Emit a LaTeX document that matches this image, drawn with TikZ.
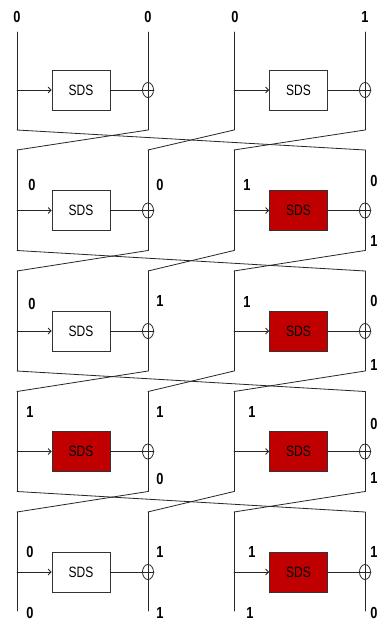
\documentclass[tikz,border=0pt]{standalone}
\usepackage{fontspec}
\setmainfont{Liberation Sans}
\newfontfamily\narrowsf[FakeStretch=0.8]{Liberation Sans}
\usetikzlibrary{shapes.geometric,arrows.meta}
\definecolor{sdsred}{HTML}{C00000}
\begin{document}
\begin{tikzpicture}[x=1pt,y=-1pt,
  wire/.style={line width=0.8pt, draw=black!85, line cap=round},
  sdsbox/.style={draw=black!80, line width=0.8pt, minimum width=58pt, minimum height=40pt, inner sep=0pt, font=\narrowsf\fontsize{15}{16}\selectfont},
  hot/.style={sdsbox, fill=sdsred},
  cold/.style={sdsbox, fill=white},
  xorsym/.style={ellipse, draw=black!85, line width=0.8pt, minimum width=11pt, minimum height=15pt, inner sep=0pt},
  feed/.style={wire, -{Straight Barb[length=3pt,width=6pt]}},
  bit/.style={font=\narrowsf\bfseries\fontsize{16}{17}\selectfont, inner sep=0pt}
]
\useasboundingbox (0,0) rectangle (379,621);
\fill[white] (0,0) rectangle (379,621);

\foreach \k/\c/\t/\b/\sa/\sb in {1/90/32/130/cold/cold, 2/210.5/150/250.5/cold/hot, 3/331/271/371/cold/hot, 4/451.5/391.5/491.5/hot/hot, 5/572/512/611/cold/hot} {
  \coordinate (t\k-1) at (17,\t);
  \coordinate (t\k-2) at (148,\t);
  \coordinate (t\k-3) at (234,\t);
  \coordinate (t\k-4) at (365,\t);
  \coordinate (b\k-1) at (17,\b);
  \coordinate (b\k-2) at (148,\b);
  \coordinate (b\k-3) at (234,\b);
  \coordinate (b\k-4) at (365,\b);
  \coordinate (in\k-1) at (17,\c);
  \coordinate (in\k-2) at (234,\c);
  \node[\sa] (box\k-1) at (81,\c) {SDS};
  \node[\sb] (box\k-2) at (298.5,\c) {SDS};
  \node[xorsym] (xor\k-1) at (148,\c) {};
  \node[xorsym] (xor\k-2) at (365,\c) {};
  \draw[wire] (t\k-1) -- (b\k-1);
  \draw[wire] (t\k-2) -- (b\k-2);
  \draw[wire] (t\k-3) -- (b\k-3);
  \draw[wire] (t\k-4) -- (b\k-4);
  \draw[feed] (in\k-1) -- (box\k-1.west);
  \draw[feed] (in\k-2) -- (box\k-2.west);
  \draw[wire] (box\k-1.east) -- (xor\k-1.east);
  \draw[wire] (box\k-2.east) -- (xor\k-2.east);
}

\foreach \k/\n in {1/2,2/3,3/4,4/5} {
  \draw[wire] (b\k-1) -- (t\n-4);
  \draw[wire] (b\k-2) -- (t\n-1);
  \draw[wire] (b\k-3) -- (t\n-2);
  \draw[wire] (b\k-4) -- (t\n-3);
}

% row 1
\node[bit] (r1a) at (17,17) {0};
\node[bit] (r1b) at (148,17) {0};
\node[bit] (r1c) at (235,17) {0};
\node[bit] (r1d) at (365,17) {1};
% row 2
\node[bit] (r2a) at (32,185) {0};
\node[bit] (r2b) at (160,185) {0};
\node[bit] (r2c) at (247,185) {1};
\node[bit] (r2d) at (374,181) {0};
\node[bit] (r2e) at (374,241) {1};
% row 3
\node[bit] (r3a) at (32,304) {0};
\node[bit] (r3b) at (160,301) {1};
\node[bit] (r3c) at (247,302) {1};
\node[bit] (r3d) at (374,301) {0};
\node[bit] (r3e) at (374,365) {1};
% row 4
\node[bit] (r4a) at (30,412) {1};
\node[bit] (r4b) at (160,412) {1};
\node[bit] (r4c) at (160,479) {0};
\node[bit] (r4d) at (252,412) {1};
\node[bit] (r4e) at (374,424) {0};
\node[bit] (r4f) at (374,478) {1};
% row 5
\node[bit] (r5a) at (30,552) {0};
\node[bit] (r5b) at (160,552) {1};
\node[bit] (r5c) at (252,552) {1};
\node[bit] (r5d) at (374,552) {1};
\node[bit] (r5e) at (30,613) {0};
\node[bit] (r5f) at (160,613) {1};
\node[bit] (r5g) at (250,613) {1};
\node[bit] (r5h) at (374,613) {0};
\end{tikzpicture}
\end{document}
